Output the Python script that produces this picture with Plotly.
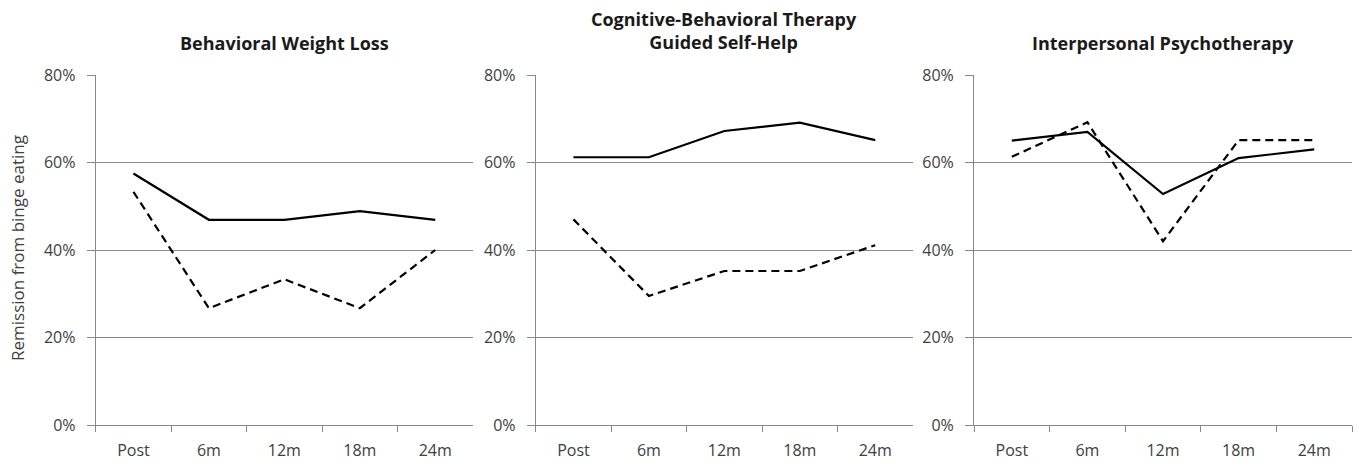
import plotly.graph_objects as go

categories = ["Post", "6m", "12m", "18m", "24m"]
panel_titles = ["Behavioral Weight Loss",
                "Cognitive-Behavioral Therapy<br>Guided Self-Help",
                "Interpersonal Psychotherapy"]
solid_bwl = [0.575, 0.469, 0.469, 0.489, 0.469]
dashed_bwl = [0.533, 0.267, 0.333, 0.267, 0.400]
solid_cbt = [0.612, 0.612, 0.672, 0.691, 0.651]
dashed_cbt = [0.470, 0.295, 0.352, 0.352, 0.411]
solid_ipt = [0.650, 0.670, 0.528, 0.610, 0.630]
dashed_ipt = [0.613, 0.692, 0.420, 0.651, 0.651]
y_title = "Remission from binge eating"

W, H = 1360, 464
panels = [(95.7, 473), (535.7, 913), (974, 1352)]
top_px, bot_px = 75, 425
solids = [solid_bwl, solid_cbt, solid_ipt]
dashes = [dashed_bwl, dashed_cbt, dashed_ipt]

font_family = "'Open Sans', Lato, sans-serif"
fig = go.Figure()
layout = dict(
    width=W, height=H,
    margin=dict(l=0, r=0, t=0, b=0, autoexpand=False),
    paper_bgcolor="white", plot_bgcolor="white",
    showlegend=False,
    font=dict(family=font_family, size=16, color="#404040"),
)
annotations = []
for i in range(3):
    sfx = "" if i == 0 else str(i + 1)
    x0, x1 = panels[i]
    fig.add_trace(go.Scatter(x=categories, y=solids[i], mode="lines",
                             line=dict(color="black", width=2.2),
                             xaxis="x" + sfx, yaxis="y" + sfx))
    fig.add_trace(go.Scatter(x=categories, y=dashes[i], mode="lines",
                             line=dict(color="black", width=2.2, dash="8px,5px"),
                             xaxis="x" + sfx, yaxis="y" + sfx))
    layout["xaxis" + sfx] = dict(
        domain=[x0 / W, x1 / W], anchor="y" + sfx, type="category",
        range=[-0.5, len(categories) - 0.5], automargin=False,
        tickson="boundaries", ticks="outside", ticklen=6, tickcolor="#888888",
        showline=True, linecolor="#888888", linewidth=1, showgrid=False,
        tickfont=dict(size=16, color="#404040"), ticklabelstandoff=11,
        fixedrange=True,
    )
    layout["yaxis" + sfx] = dict(
        domain=[1 - bot_px / H, 1 - top_px / H], anchor="x" + sfx,
        range=[0, 0.8], dtick=0.2, tick0=0, tickformat=".0%", automargin=False,
        showgrid=True, gridcolor="#888888", gridwidth=1,
        showline=True, linecolor="#888888", linewidth=1,
        ticks="outside", ticklen=8, tickcolor="#888888",
        tickfont=dict(size=16, color="#404040"), ticklabelstandoff=8,
        zeroline=False, fixedrange=True,
    )
    annotations.append(dict(
        text="<b>" + panel_titles[i] + "</b>", xref="paper", yref="paper",
        x=(x0 + x1) / 2 / W, y=1 - (43 if i != 1 else 31) / H,
        xanchor="center", yanchor="middle", showarrow=False,
        font=dict(size=18, color="#1a1a1a", family=font_family),
    ))
annotations.append(dict(
    text=y_title, xref="paper", yref="paper", x=18 / W, y=1 - 248 / H,
    xanchor="center", yanchor="middle", textangle=-90, showarrow=False,
    font=dict(size=17, color="#404040", family=font_family),
))
layout["annotations"] = annotations
fig.update_layout(**layout)
fig.write_html("out.html",
               config={"displayModeBar": False, "staticPlot": True},
               post_script="document.body.style.margin='0';"
                           "document.body.style.overflow='hidden';")
